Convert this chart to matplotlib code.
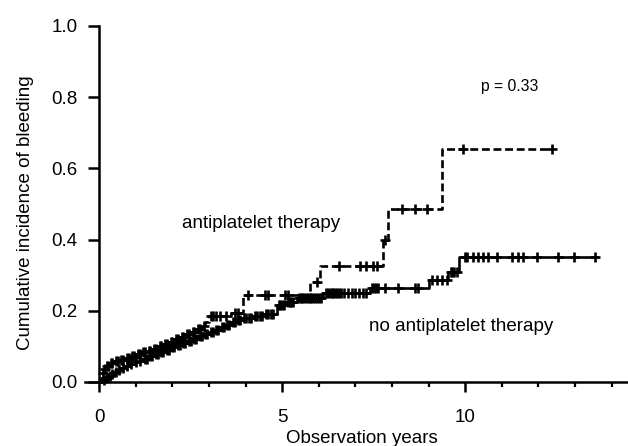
import numpy as np
import matplotlib
matplotlib.use('Agg')
import matplotlib.pyplot as plt
from matplotlib.ticker import MultipleLocator, FormatStrFormatter

plt.rcParams['font.family'] = ['Liberation Sans', 'DejaVu Sans']

# antiplatelet therapy (dashed): event times and cumulative incidence after each step
ap_times = [0.0, 0.04, 0.08, 0.12, 0.18, 0.28, 0.4, 0.55, 0.7, 0.85, 1.0, 1.15, 1.3,
			1.45, 1.6, 1.75, 1.9, 2.05, 2.2, 2.35, 2.5, 2.65, 2.8, 2.9, 3.0, 3.6, 3.94,
			5.76, 6.03, 7.76, 7.90, 9.36]
ap_cuminc = [0.0, 0.012, 0.024, 0.036, 0.046, 0.053, 0.058, 0.063, 0.068, 0.073, 0.078,
			 0.083, 0.088, 0.094, 0.10, 0.106, 0.112, 0.12, 0.127, 0.134, 0.141, 0.149,
			 0.158, 0.168, 0.185, 0.195, 0.244, 0.282, 0.326, 0.40, 0.486, 0.654]
ap_end = 12.4
ap_censor = [0.1, 0.15, 0.22, 0.25, 0.32, 0.36, 0.45, 0.5, 0.6, 0.65, 0.75, 0.8, 0.9,
			 0.95, 1.05, 1.1, 1.2, 1.25, 1.35, 1.4, 1.5, 1.55, 1.65, 1.7, 1.8, 1.85,
			 1.95, 2.0, 2.1, 2.15, 2.25, 2.3, 2.4, 2.45, 2.55, 2.6, 2.7, 2.75, 2.85,
			 3.05, 3.1, 3.2, 3.3, 3.45, 3.7, 3.8, 4.07, 4.53, 4.62, 5.07, 5.16, 5.94,
			 6.56, 7.12, 7.30, 7.49, 7.60, 7.81, 8.26, 8.63, 8.95, 9.95, 12.38]

# no antiplatelet therapy (solid)
noap_times = [0.0, 0.08, 0.16, 0.24, 0.32, 0.4, 0.5, 0.6, 0.7, 0.82, 0.95, 1.08, 1.2,
			  1.35, 1.5, 1.65, 1.8, 1.95, 2.1, 2.25, 2.4, 2.55, 2.7, 2.85, 3.0, 3.15,
			  3.3, 3.45, 3.6, 3.75, 3.9, 4.2, 4.5, 4.85, 5.1, 5.4, 6.12, 7.40, 9.02,
			  9.54, 9.84]
noap_cuminc = [0.0, 0.005, 0.01, 0.016, 0.022, 0.028, 0.034, 0.04, 0.045, 0.05, 0.055,
			   0.06, 0.066, 0.072, 0.078, 0.084, 0.09, 0.097, 0.104, 0.11, 0.116, 0.122,
			   0.128, 0.134, 0.14, 0.147, 0.154, 0.161, 0.168, 0.175, 0.18, 0.185, 0.19,
			   0.215, 0.225, 0.235, 0.249, 0.263, 0.287, 0.31, 0.352]
noap_end = 13.59
noap_censor = [0.12, 0.2, 0.28, 0.36, 0.45, 0.55, 0.65, 0.75, 0.88, 1.0, 1.12, 1.25,
			   1.3, 1.4, 1.45, 1.55, 1.6, 1.7, 1.75, 1.85, 1.9, 2.0, 2.05, 2.15, 2.2,
			   2.3, 2.35, 2.45, 2.5, 2.6, 2.65, 2.75, 2.8, 2.9, 2.95, 3.05, 3.1, 3.2,
			   3.25, 3.35, 3.4, 3.5, 3.55, 3.65, 3.7, 3.8, 3.85, 3.95, 4.0, 4.1, 4.15,
			   4.25, 4.3, 4.4, 4.45, 4.55, 4.6, 4.7, 4.75, 4.9, 4.95, 5.0, 5.05, 5.15,
			   5.2, 5.25, 5.3, 5.45, 5.5, 5.55, 5.6, 5.65, 5.7, 5.75, 5.8, 5.85, 5.9,
			   5.95, 6.0, 6.05, 6.2, 6.25, 6.3, 6.35, 6.4, 6.45, 6.5, 6.55, 6.6, 6.7,
			   6.8, 6.9, 7.0, 7.1, 7.2, 7.3, 7.45, 7.5, 7.55, 7.63, 7.81, 8.17, 8.63,
			   8.72, 9.08, 9.22, 9.36, 9.49, 9.6, 9.65, 9.7, 9.78, 9.99, 10.05, 10.22,
			   10.36, 10.49, 10.63, 10.86, 11.27, 11.45, 11.59, 11.95, 12.54, 12.97,
			   13.54]

x_major = [0, 5, 10]
y_ticks = [0.0, 0.2, 0.4, 0.6, 0.8, 1.0]


def step_value(times, values, t):
	i = np.searchsorted(times, t, side='right') - 1
	return np.asarray(values)[i]


def plot_curve(ax, times, cuminc, end, censor, ls):
	x = list(times) + [end]
	y = list(cuminc) + [cuminc[-1]]
	ax.step(x, y, where='post', color='black', lw=1.9, linestyle=ls, clip_on=False)
	cy = step_value(times, cuminc, censor)
	ax.plot(censor, cy, linestyle='none', marker='+', color='black',
			markersize=7, mew=1.9, clip_on=False)


fig = plt.figure(figsize=(6.28, 4.46), dpi=100)
ax = fig.add_axes([85 / 628, 1 - 382 / 446, 543 / 628, 356 / 446])

plot_curve(ax, ap_times, ap_cuminc, ap_end, ap_censor, (0, (3, 1.4)))
plot_curve(ax, noap_times, noap_cuminc, noap_end, noap_censor, '-')

ax.set_xlim(-0.39, 14.45)
ax.set_ylim(0, 1.0)
ax.spines['top'].set_visible(False)
ax.spines['right'].set_visible(False)
ax.spines['left'].set_position(('data', 0))
ax.spines['left'].set_linewidth(1.8)
ax.spines['bottom'].set_linewidth(1.8)

ax.set_xticks(x_major)
ax.xaxis.set_minor_locator(MultipleLocator(1))
ax.set_yticks(y_ticks)
ax.yaxis.set_major_formatter(FormatStrFormatter('%.1f'))
ax.tick_params(axis='x', which='major', length=7.5, width=1.8, pad=12, labelsize=13.5)
ax.tick_params(axis='x', which='minor', length=3.5, width=1.6)
ax.tick_params(axis='y', which='major', length=8, width=1.8, pad=7.5, labelsize=13.5)

ax.set_xlabel('Observation years', fontsize=13.5)
ax.set_ylabel('Cumulative incidence of bleeding', fontsize=13.5)
ax.xaxis.set_label_coords(0.51, -0.135)
ax.yaxis.set_label_coords(-0.094, 0.475)

ax.text(4.42, 0.444, 'antiplatelet therapy', ha='center', va='center', fontsize=13.5)
ax.text(9.90, 0.155, 'no antiplatelet therapy', ha='center', va='center', fontsize=13.5)
ax.text(11.23, 0.829, 'p = 0.33', ha='center', va='center', fontsize=11.3)

fig.savefig('out.png', dpi=100)
